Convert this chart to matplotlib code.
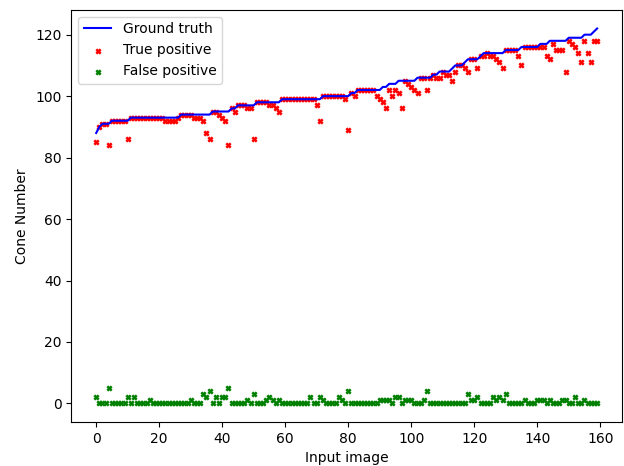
import numpy as np
import matplotlib
matplotlib.use("Agg")
import matplotlib.pyplot as plt

# ground truth cone counts per input image (sorted)
ground_truth = ([88, 90, 91, 91, 91] + [92] * 6 + [93] * 16 + [94] * 10 +
                [95] * 6 + [96] * 2 + [97] * 6 + [98] * 8 + [99] * 13 +
                [100] * 9 + [101] * 2 + [102] * 8 + [103] * 2 + [104] * 3 +
                [105] * 6 + [106] * 5 + [107] * 2 + [108] * 4 + [109] +
                [110] * 3 + [111] + [112] * 4 + [113] + [114] * 7 +
                [115] * 5 + [116] * 6 + [117] * 3 + [118] * 6 + [119] * 5 +
                [120] * 3 + [121, 122])

true_pos = [85, 90, 91, 91, 84, 92, 92, 92, 92, 92,
            86, 93, 93, 93, 93, 93, 93, 93, 93, 93,
            93, 93, 92, 92, 92, 92, 93, 94, 94, 94,
            94, 93, 93, 93, 92, 88, 86, 95, 95, 94,
            93, 92, 84, 96, 95, 97, 97, 97, 96, 96,
            86, 98, 98, 98, 98, 97, 97, 96, 95, 99,
            99, 99, 99, 99, 99, 99, 99, 99, 99, 99,
            97, 92, 100, 100, 100, 100, 100, 100, 100, 99,
            89, 101, 100, 102, 102, 102, 102, 102, 102, 100,
            99, 98, 96, 102, 100, 102, 101, 96, 105, 104,
            103, 102, 101, 106, 106, 102, 106, 107, 106, 106,
            108, 107, 107, 105, 108, 110, 110, 109, 108, 112,
            112, 109, 113, 113, 114, 113, 113, 112, 111, 109,
            115, 115, 115, 115, 113, 110, 116, 116, 116, 116,
            116, 116, 116, 113, 112, 117, 115, 115, 115, 108,
            118, 117, 116, 114, 111, 118, 114, 111, 118, 118]

false_pos = [2, 0, 0, 0, 5, 0, 0, 0, 0, 0,
             2, 0, 2, 0, 0, 0, 0, 1, 0, 0,
             0, 0, 0, 0, 0, 0, 0, 0, 0, 0,
             1, 0, 0, 0, 3, 2, 4, 0, 2, 0,
             2, 2, 5, 0, 0, 0, 0, 0, 1, 0,
             3, 0, 0, 0, 1, 2, 1, 0, 1, 0,
             0, 0, 0, 0, 0, 0, 0, 0, 2, 0,
             0, 2, 1, 0, 0, 0, 0, 2, 1, 0,
             4, 0, 0, 0, 0, 0, 0, 0, 0, 0,
             1, 1, 1, 1, 0, 2, 2, 0, 1, 1,
             1, 0, 0, 0, 1, 4, 0, 0, 0, 0,
             0, 0, 0, 0, 0, 0, 0, 0, 3, 1,
             1, 2, 0, 0, 0, 0, 2, 1, 2, 1,
             3, 0, 0, 0, 0, 0, 1, 0, 0, 0,
             1, 1, 1, 0, 1, 0, 0, 0, 1, 1,
             0, 0, 2, 0, 0, 1, 0, 0, 0, 0]

images = np.arange(len(ground_truth))

fig, ax = plt.subplots(figsize=(6.24, 4.66), dpi=100)
ax.plot(images, ground_truth, color='b', label='Ground truth')
ax.scatter(images, true_pos, marker='x', s=10, linewidths=1.8, color='r', label='True positive')
ax.scatter(images, false_pos, marker='x', s=10, linewidths=1.8, color='g', label='False positive')
ax.set_xlabel('Input image')
ax.set_ylabel('Cone Number')
ax.legend(loc='upper left')

plt.subplots_adjust(left=0.114, right=0.997, top=0.979, bottom=0.094)
plt.savefig('out.png')
